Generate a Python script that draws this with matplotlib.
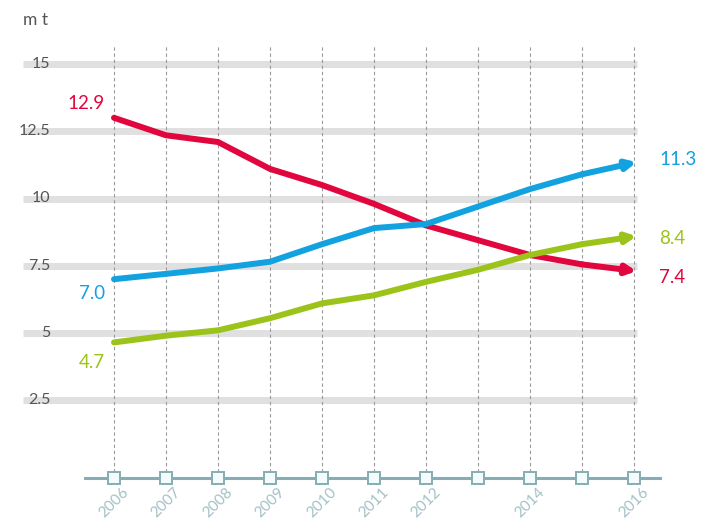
import matplotlib.pyplot as plt
import numpy as np

plt.rcParams['font.family'] = ['Lato', 'DejaVu Sans']

years = np.arange(2006, 2017)
year_labels = ['2006', '2007', '2008', '2009', '2010', '2011', '2012', '', '2014', '', '2016']
red = [13.0, 12.35, 12.1, 11.1, 10.5, 9.8, 9.0, 8.45, 7.9, 7.55, 7.3]
blue = [7.0, 7.2, 7.4, 7.65, 8.3, 8.9, 9.05, 9.7, 10.35, 10.9, 11.35]
green = [4.65, 4.9, 5.1, 5.55, 6.1, 6.4, 6.9, 7.35, 7.9, 8.3, 8.6]
start_labels = ['12.9', '7.0', '4.7']
end_labels = ['7.4', '11.3', '8.4']
y_ticks = [2.5, 5, 7.5, 10, 12.5, 15]
y_tick_labels = ['2.5', '5', '7.5', '10', '12.5', '15']

c_red = '#e2063f'
c_blue = '#12a2df'
c_green = '#9cc31a'
c_axis = '#86adb5'

fig = plt.figure(figsize=(7.07, 5.2), dpi=100)
ax = fig.add_axes([0, 0, 1, 1])
ax.set_xlim(2006 - 114 / 52, 2006 + 593 / 52)
ax.set_ylim(-52.5 / 26.9, 467.5 / 26.9)
ax.axis('off')

# grid bands
for v, lab in zip(y_ticks, y_tick_labels):
    ax.plot([2004.25, 2016.05], [v, v], color='#e0e0e0', lw=5, solid_capstyle='butt', zorder=1)
    ax.text(2004.78, v, lab, ha='right', va='center', fontsize=11.5, color='#555555', zorder=2)

# vertical dashed lines
for x in years:
    ax.plot([x, x], [-0.4, 15.7], color='#9a9a9a', lw=0.8, ls=(0, (3, 2.5)), zorder=1)

# x axis
ax.plot([2006 - 29 / 52, 2016 + 26 / 52], [-0.4, -0.4], color=c_axis, lw=2.2, zorder=3)
ax.plot(years, [-0.4] * len(years), 's', ms=8, mfc='#f4fbfc', mec=c_axis, mew=1.4, zorder=4)
for x, lab in zip(years, year_labels):
    ax.text(x + 0.15, -0.64, lab, rotation=45, ha='right', va='top', fontsize=11,
            color='#a3c1c6', rotation_mode='anchor')

ax.text(2004.25, 16.65, 'm t', fontsize=12.5, color='#555555', ha='left', va='center')

for ys, c, sl, el, soff, eoff in [
    (red, c_red, start_labels[0], end_labels[0], 0.55, -0.25),
    (blue, c_blue, start_labels[1], end_labels[1], -0.55, 0.1),
    (green, c_green, start_labels[2], end_labels[2], -0.75, -0.1),
]:
    ax.plot(years[:-1], ys[:-1], color=c, lw=4.3, solid_joinstyle='round',
            solid_capstyle='round', zorder=5)
    ax.annotate('', xy=(years[-1] + 0.05, ys[-1]), xytext=(years[-2], ys[-2]),
                arrowprops=dict(arrowstyle='-|>', color=c, lw=4.3, mutation_scale=14,
                                shrinkA=0, shrinkB=0), zorder=5)
    ax.text(2005.82, ys[0] + soff, sl, ha='right', va='center', fontsize=13.5, color=c)
    ax.text(2016.48, ys[-1] + eoff, el, ha='left', va='center', fontsize=13.5, color=c)

fig.savefig('out.png', dpi=100)
